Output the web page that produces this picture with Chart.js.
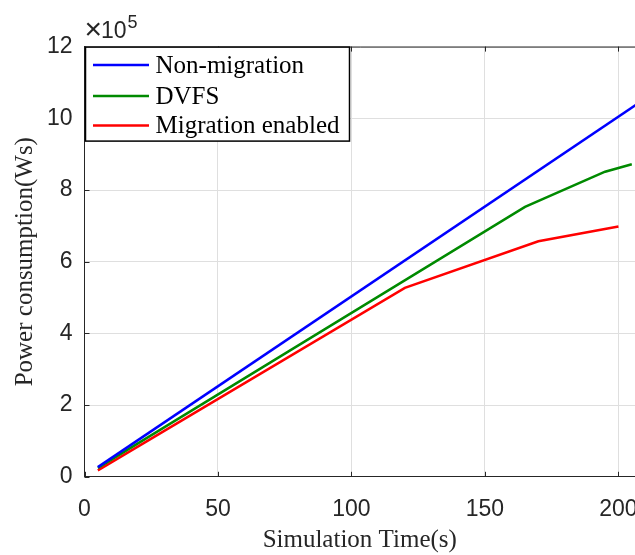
<!DOCTYPE html>
<html>
<head>
<meta charset="utf-8">
<script src="https://cdn.jsdelivr.net/npm/chart.js@4/dist/chart.umd.min.js"></script>
<style>
  html, body { margin: 0; padding: 0; background: #fff; overflow: hidden; }
  #wrap { width: 635px; height: 555px; position: relative; }
</style>
</head>
<body>
<div id="wrap"><canvas id="c" width="635" height="555"></canvas></div>
<script>
// ---- data (values in units of 10^5 Ws) ----
const seriesNames = ["Non-migration", "DVFS", "Migration enabled"];
const nonMigrationTime = [5, 210];
const nonMigrationPower = [0.27, 10.55];
const dvfsTime = [5, 165, 195, 205];
const dvfsPower = [0.25, 7.53, 8.51, 8.72];
const migrationTime = [5, 120, 170, 200];
const migrationPower = [0.18, 5.27, 6.57, 6.98];
const xTicks = [0, 50, 100, 150, 200];
const yTicks = [0, 2, 4, 6, 8, 10, 12];
const xTitle = "Simulation Time(s)";
const yTitle = "Power consumption(Ws)";
const exponentLabel = "5";

const colors = ["#0000ff", "#008a00", "#ff0000"];

function pts(xs, ys) { return xs.map((x, i) => ({ x: x, y: ys[i] })); }

const AXIS_LEFT = 84.5;
const AXIS_TOP = 46.6;
const AXIS_BOTTOM = 476.8;

const decor = {
  id: 'decor',
  afterDraw(chart) {
    const ctx = chart.ctx;
    const a = chart.chartArea;
    ctx.save();
    // top box line
    ctx.strokeStyle = '#262626';
    ctx.lineWidth = 1;
    ctx.beginPath();
    ctx.moveTo(a.left, a.top + 0.5);
    ctx.lineTo(a.right + 5, a.top + 0.5);
    ctx.stroke();
    // inward tick marks
    const xs = chart.scales.x, ys = chart.scales.y;
    ctx.beginPath();
    xTicks.forEach(v => {
      const px = Math.round(xs.getPixelForValue(v)) + 0.5;
      ctx.moveTo(px, a.bottom); ctx.lineTo(px, a.bottom - 5);
      ctx.moveTo(px, a.top); ctx.lineTo(px, a.top + 5);
    });
    yTicks.forEach(v => {
      const py = Math.round(ys.getPixelForValue(v)) + 0.5;
      ctx.moveTo(a.left, py); ctx.lineTo(a.left + 5, py);
    });
    ctx.stroke();
    // exponent label
    ctx.fillStyle = '#262626';
    ctx.textBaseline = 'alphabetic';
    ctx.textAlign = 'left';
    ctx.font = '30px "Liberation Sans"';
    ctx.fillText('\u00d7', a.left, a.top - 8);
    const wx = ctx.measureText('\u00d7').width;
    ctx.font = '23px "Liberation Sans"';
    ctx.fillText('10', a.left + wx - 1, a.top - 9);
    const w10 = ctx.measureText('10').width;
    ctx.font = '18px "Liberation Sans"';
    ctx.fillText(exponentLabel, a.left + wx + w10, a.top - 18.5);
    // legend
    const lx = a.left + 1, ly = a.top + 0.5, lw = 264, lh = 94;
    ctx.fillStyle = '#fff';
    ctx.fillRect(lx, ly, lw, lh);
    ctx.strokeStyle = '#000';
    ctx.lineWidth = 1.5;
    ctx.strokeRect(lx, ly, lw, lh);
    ctx.font = '25px "Liberation Serif"';
    ctx.textBaseline = 'middle';
    const rows = [65, 96, 125.5];
    seriesNames.forEach((n, i) => {
      ctx.strokeStyle = colors[i];
      ctx.lineWidth = 2.5;
      ctx.beginPath();
      ctx.moveTo(93, rows[i]); ctx.lineTo(149, rows[i]);
      ctx.stroke();
      ctx.fillStyle = '#000';
      ctx.fillText(n, 155.5, rows[i] + 1);
    });
    ctx.restore();
  }
};

const datasets = [
  { label: seriesNames[0], data: pts(nonMigrationTime, nonMigrationPower), borderColor: colors[0] },
  { label: seriesNames[1], data: pts(dvfsTime, dvfsPower), borderColor: colors[1] },
  { label: seriesNames[2], data: pts(migrationTime, migrationPower), borderColor: colors[2] }
].map(d => Object.assign(d, { borderWidth: 2.5, pointRadius: 0, tension: 0, fill: false }));

new Chart(document.getElementById('c'), {
  type: 'line',
  data: { datasets: datasets },
  options: {
    responsive: false,
    animation: false,
    events: [],
    layout: { padding: { left: 0, right: 0, top: AXIS_TOP, bottom: 0 } },
    plugins: { legend: { display: false }, tooltip: { enabled: false } },
    scales: {
      x: {
        type: 'linear',
        min: 0,
        max: 206.2,
        afterBuildTicks(s) { s.ticks = xTicks.map(v => ({ value: v })); },
        afterFit(s) { s.height = 555 - AXIS_BOTTOM; s.paddingLeft = 0; s.paddingRight = 0; },
        ticks: {
          color: '#262626',
          font: { family: 'Liberation Sans', size: 23 },
          padding: 19,
          maxRotation: 0,
          autoSkip: false
        },
        grid: { color: '#dfdfdf', drawTicks: false, lineWidth: 1 },
        border: { display: true, color: '#262626', width: 1 },
        title: {
          display: true,
          text: xTitle,
          color: '#262626',
          font: { family: 'Liberation Serif', size: 25, lineHeight: 1.2 },
          padding: { top: 0, bottom: 0 }
        }
      },
      y: {
        type: 'linear',
        min: 0,
        max: 12,
        afterBuildTicks(s) { s.ticks = yTicks.map(v => ({ value: v })); },
        afterFit(s) { s.width = AXIS_LEFT; s.paddingTop = 0; s.paddingBottom = 0; },
        ticks: {
          color: '#262626',
          font: { family: 'Liberation Sans', size: 23 },
          padding: 12
        },
        grid: { color: '#dfdfdf', drawTicks: false, lineWidth: 1 },
        border: { display: true, color: '#262626', width: 1 },
        title: {
          display: true,
          text: yTitle,
          color: '#262626',
          font: { family: 'Liberation Serif', size: 25, lineHeight: 1.2 },
          padding: { top: 10, bottom: 0 }
        }
      }
    }
  },
  plugins: [decor]
});
</script>
</body>
</html>
